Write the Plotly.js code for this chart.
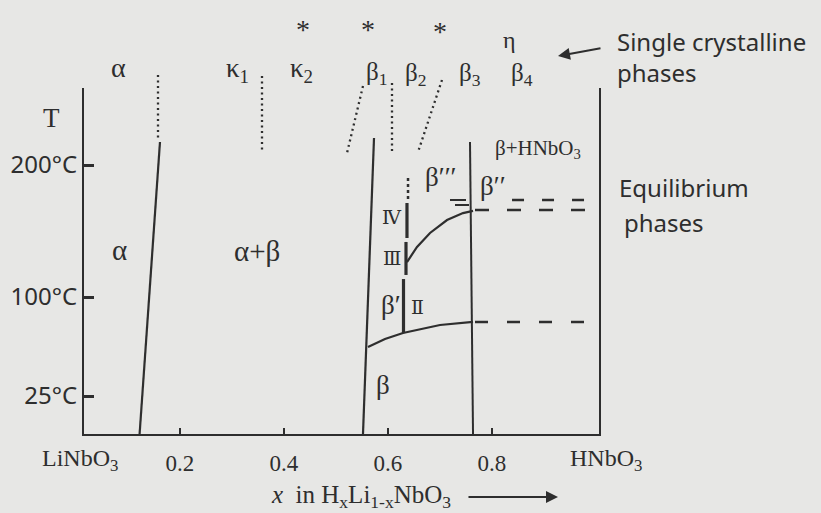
<!DOCTYPE html>
<html>
<head>
<meta charset="utf-8">
<script src="https://cdn.plot.ly/plotly-3.0.1.min.js"></script>
<style>html,body{margin:0;padding:0;background:#e7e7e5;}#chart{width:821px;height:513px;}</style>
</head>
<body>
<div id="chart"></div>
<script>
// ---- data: x = composition in HxLi1-xNbO3 (0 = LiNbO3, 1 = HNbO3), T in °C ----
const xTickVals = [0.2, 0.4, 0.6, 0.8];
const xTickText = ['0.2', '0.4', '0.6', '0.8'];
const yTickVals = [25, 100, 200];
const yTickText = ['25°C', '100°C', '200°C'];

// equilibrium phase boundaries (solid)
const alphaBoundX = [0.1615, 0.1223];
const alphaBoundT = [217.4, -3.8];
const betaLeftX = [0.5731, 0.5519];
const betaLeftT = [220.5, -3.8];
const betaRightX = [0.7577, 0.7635];
const betaRightT = [217.4, -3.8];

// transition curves
const lowCurveX = [0.5615, 0.5942, 0.6288, 0.7000, 0.7635];
const lowCurveT = [62.1, 68.2, 72.7, 78.8, 81.1];
const upCurveX = [0.6365, 0.6558, 0.6808, 0.7135, 0.7442, 0.7635];
const upCurveT = [126.5, 137.9, 148.5, 158.3, 163.6, 165.2];

// dashed extensions in the β + HNbO3 field
const dashLowX = [0.7673, 0.9846];
const dashLowT = [81.1, 81.1];
const dashMidX = [0.7673, 0.9827];
const dashMidT = [165.9, 165.9];
const dashHighX = [0.8385, 0.9808];
const dashHighT = [173.5, 173.5];
const barTopX = [0.7192, 0.7500];
const barTopT = [173.5, 173.5];
const barLowX = [0.7288, 0.7558];
const barLowT = [169.7, 169.7];

// vertical β' / β''' separator (dotted top + broken thick line)
const sepDotX = [0.6385, 0.6385];
const sepDotT = [190.2, 172.0];
const sepAX = [0.6365, 0.6365];
const sepAT = [171.2, 144.7];
const sepBX = [0.6346, 0.6346];
const sepBT = [141.7, 116.7];
const sepCX = [0.6298, 0.6298];
const sepCT = [113.6, 72.7];

// single-crystalline phase separators (dotted)
const dot1X = [0.1577, 0.1577];  const dot1T = [268.2, 218.9];
const dot2X = [0.3577, 0.3577];  const dot2T = [267.4, 209.8];
const dot3X = [0.5519, 0.5212];  const dot3T = [259.8, 209.1];
const dot4X = [0.6077, 0.6077];  const dot4T = [262.1, 209.1];
const dot5X = [0.7038, 0.6577];  const dot5T = [264.4, 209.8];

const ink = '#2e2e2e';
const serif = 'Liberation Serif, Times New Roman, serif';
const sans = 'Noto Sans, Open Sans, sans-serif';

function line(xs, ts, width, dash) {
  return {x: xs, y: ts, xaxis: 'x2', yaxis: 'y2', mode: 'lines', type: 'scatter',
          line: {color: ink, width: width, dash: dash || 'solid'}, hoverinfo: 'skip'};
}
const dotted = '2px,3.5px';
const traces = [
  {x: [0.5], y: [100], xaxis: 'x', yaxis: 'y', mode: 'markers', marker: {opacity: 0}, hoverinfo: 'skip'},
  line(alphaBoundX, alphaBoundT, 2.2),
  line(betaLeftX, betaLeftT, 2.2),
  line(betaRightX, betaRightT, 2),
  line(lowCurveX, lowCurveT, 2.2),
  line(upCurveX, upCurveT, 2.2),
  line(dashLowX, dashLowT, 2.5, '13px,19px'),
  line(dashMidX, dashMidT, 2.5, '14px,18px'),
  line(dashHighX, dashHighT, 2.5, '12px,18px'),
  line(barTopX, barTopT, 2),
  line(barLowX, barLowT, 2),
  line(sepDotX, sepDotT, 2.5, '3px,3px'),
  line(sepAX, sepAT, 3.2),
  line(sepBX, sepBT, 3.2),
  line(sepCX, sepCT, 3.2),
  line(dot1X, dot1T, 2.3, dotted),
  line(dot2X, dot2T, 2.3, dotted),
  line(dot3X, dot3T, 2.3, dotted),
  line(dot4X, dot4T, 2.3, dotted),
  line(dot5X, dot5T, 2.3, dotted)
];

function lab(x, y, text, size, family, extra) {
  return Object.assign({xref: 'x2', yref: 'y2', x: x, y: y, text: text, showarrow: false,
    font: {family: family || serif, size: size, color: ink}, xanchor: 'center', yanchor: 'middle'}, extra || {});
}
const roman = 'DejaVu Serif, serif';
const annotations = [
  lab(0.4365, 303.0, '*', 28),
  lab(0.5615, 303.0, '*', 28),
  lab(0.7000, 300.8, '*', 28),
  lab(0.8346, 294.7, 'η', 24),
  lab(0.0808, 273.5, 'α', 28),
  lab(0.3115, 272.0, 'κ<sub>1</sub>', 27),
  lab(0.4346, 272.0, 'κ<sub>2</sub>', 27),
  lab(0.5788, 269.0, 'β<sub>1</sub>', 25),
  lab(0.6538, 268.2, 'β<sub>2</sub>', 25),
  lab(0.7577, 268.2, 'β<sub>3</sub>', 25),
  lab(0.8577, 268.2, 'β<sub>4</sub>', 25),
  lab(-0.048, 235.6, 'T', 27),
  lab(0.0846, 135.6, 'α', 29),
  lab(0.348, 134.8, 'α+β', 29),
  lab(0.6058, 93.9, 'β\u2032', 27),
  lab(0.6558, 92.4, 'Ⅱ', 19, roman),
  lab(0.6077, 129.5, 'Ⅲ', 19, roman),
  lab(0.6077, 160.6, 'Ⅳ', 19, roman),
  lab(0.590, 33.3, 'β', 27),
  lab(0.700, 190.9, 'β\u2032\u2032\u2032', 27),
  lab(0.8019, 184.1, 'β\u2032\u2032', 27),
  lab(0.8019, 212.1, 'β+HNbO<sub>3</sub>', 21, serif, {xanchor: 'left'}),
  lab(1.0365, 281.5, 'Single crystalline<br>phases', 24, sans, {xanchor: 'left', align: 'left'}),
  lab(1.0404, 183.3, 'Equilibrium', 24, sans, {xanchor: 'left'}),
  lab(1.0500, 156.8, 'phases', 24, sans, {xanchor: 'left'}),
  lab(0.0077, -23.5, 'LiNbO<sub>3</sub>', 24),
  lab(1.0192, -23.5, 'HNbO<sub>3</sub>', 24),
  lab(0.548, -51.0, '<i>x</i>  in H<sub>x</sub>Li<sub>1-x</sub>NbO<sub>3</sub>', 25),
  {xref: 'x2', yref: 'y2', x: 0.9269, y: 282.6, ax: 44, ay: -8, text: '', showarrow: true,
   arrowhead: 2, arrowsize: 1.2, arrowwidth: 2, arrowcolor: ink},
  {xref: 'x2', yref: 'y2', x: 0.9269, y: -51.5, ax: -91, ay: 0, text: '', showarrow: true,
   arrowhead: 2, arrowsize: 1.2, arrowwidth: 2, arrowcolor: ink}
];

const layout = {
  width: 821, height: 513,
  margin: {l: 0, r: 0, t: 0, b: 0},
  paper_bgcolor: '#e7e7e5',
  plot_bgcolor: 'rgba(0,0,0,0)',
  showlegend: false,
  hovermode: false,
  xaxis: {domain: [0.102314, 0.729598], range: [0.015385, 1.005769], anchor: 'y',
          showline: true, linecolor: ink, linewidth: 2.2, mirror: false,
          ticks: 'inside', ticklen: 6, tickwidth: 2, tickcolor: ink,
          tickmode: 'array', tickvals: xTickVals, ticktext: xTickText,
          tickfont: {family: serif, size: 23, color: ink}, ticklabelstandoff: 7,
          showgrid: false, zeroline: false, fixedrange: true},
  yaxis: {domain: [0.153996, 0.828460], range: [-3.788, 258.333], anchor: 'x',
          showline: true, linecolor: ink, linewidth: 2, mirror: true,
          ticks: 'inside', ticklen: 10, tickwidth: 3, tickcolor: ink,
          tickmode: 'array', tickvals: yTickVals, ticktext: yTickText,
          tickfont: {family: sans, size: 24, color: ink}, ticklabelstandoff: 0,
          showgrid: false, zeroline: false, fixedrange: true},
  xaxis2: {domain: [0, 1], range: [-0.146154, 1.432692], anchor: 'y2', visible: false, fixedrange: true},
  yaxis2: {domain: [0, 1], range: [-63.636, 325], anchor: 'x2', visible: false, fixedrange: true},
  annotations: annotations
};

Plotly.newPlot('chart', traces, layout, {staticPlot: true, displayModeBar: false});
</script>
</body>
</html>
